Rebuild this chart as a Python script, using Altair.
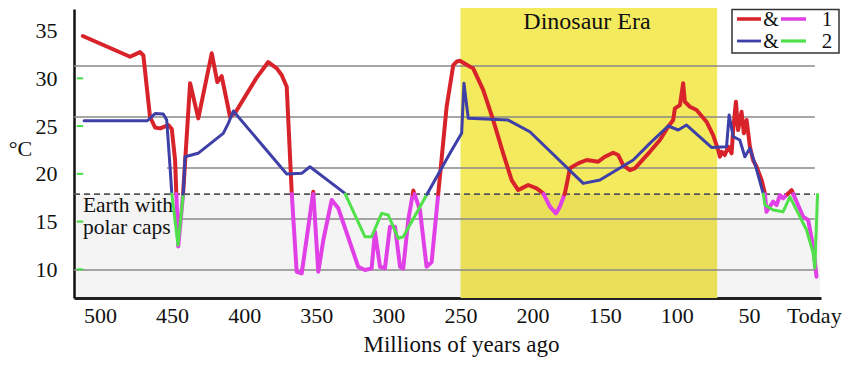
import altair as alt
import pandas as pd

# ---------------- data ----------------
# Series 1: red above the polar-cap threshold, magenta below
s1_age = [511.9, 479.1, 472.2, 469.9, 465.3, 461.8, 458.3, 452.6, 450.2, 447.9,
          445.7, 442.4, 437.5, 431.8, 422.5, 418.6, 415.6, 409.8, 406.3, 391.3,
          383.3, 377.4, 374.0, 370.5, 367.0, 363.6, 360.1, 355.5, 352.1, 348.6,
          345.1, 339.3, 334.7, 320.9, 316.2, 311.6, 309.3, 305.8, 302.4, 298.9,
          295.4, 291.9, 289.7, 286.2, 282.7, 278.1, 273.5, 270.0, 265.4, 259.6,
          255.0, 252.5, 250.4, 243.4, 241.2, 234.2, 227.3, 220.4, 214.5, 210.0,
          207.6, 203.0, 197.2, 192.6, 188.0, 183.8, 181.1, 177.6, 174.1, 168.4,
          162.5, 154.5, 149.9, 144.1, 140.6, 137.2, 132.5, 129.1, 118.7, 111.7,
          106.0, 102.5, 101.3, 97.8, 95.6, 94.4, 90.9, 86.3, 79.4, 74.8,
          71.3, 70.1, 69.0, 66.7, 64.4, 62.0, 60.9, 59.0, 57.5, 55.1,
          53.5, 51.6, 49.3, 47.1, 44.7, 41.2, 38.9, 37.8, 35.5, 33.2,
          30.8, 28.5, 26.3, 23.9, 20.4, 16.9, 12.4, 8.9, 5.4, 3.1]
s1_temp = [34.43, 32.26, 32.75, 32.39, 25.98, 24.85, 24.76, 25.11, 24.69, 21.45,
           12.40, 17.80, 29.48, 25.81, 32.62, 29.61, 30.24, 25.98, 26.37, 30.08,
           31.71, 31.05, 30.35, 29.12, 17.96, 9.75, 9.58, 14.46, 18.13, 9.75,
           13.07, 17.26, 16.39, 10.27, 9.93, 10.10, 13.94, 10.27, 10.10, 14.46,
           14.46, 10.27, 10.10, 15.16, 18.25, 16.21, 10.27, 10.76, 17.96, 27.03,
           31.39, 31.76, 31.84, 31.21, 31.05, 28.77, 25.63, 22.15, 19.35, 18.30,
           18.48, 18.83, 18.48, 17.96, 16.56, 15.86, 16.56, 17.96, 20.58, 21.10,
           21.45, 21.27, 21.79, 22.21, 21.97, 20.92, 20.40, 20.58, 22.31, 23.54,
           24.93, 25.63, 26.86, 27.20, 29.48, 27.55, 27.03, 26.68, 25.46, 24.06,
           22.49, 21.79, 22.31, 21.97, 22.84, 22.15, 24.59, 27.55, 24.59, 26.50,
           24.24, 25.63, 22.84, 21.45, 20.74, 19.35, 17.96, 16.03, 16.56, 17.08,
           16.73, 17.78, 17.43, 17.78, 18.30, 17.08, 15.51, 15.16, 12.37, 9.23]

# Series 2: blue above the threshold, green below
s2_age = [511.0, 467.1, 461.8, 456.1, 453.7, 451.4, 450.2, 445.9, 442.2, 441.0,
          432.0, 414.5, 411.0, 407.5, 370.5, 360.1, 354.4, 330.1, 316.2, 311.6,
          304.7, 300.1, 293.1, 289.7, 273.5, 257.3, 249.2, 247.6, 244.6, 216.9,
          201.9, 164.9, 153.3, 130.2, 118.7, 106.0, 99.0, 93.2, 75.9, 65.5,
          63.7, 60.9, 56.3, 52.8, 49.3, 45.9, 40.1, 38.9, 33.2, 26.3,
          21.6, 15.8, 10.0, 5.4, 4.3, 2.4]
s2_temp = [25.56, 25.56, 26.31, 26.26, 25.63, 20.74, 17.96, 12.55, 17.96, 21.79,
           22.15, 24.24, 25.29, 26.58, 19.98, 20.05, 20.74, 17.96, 13.41, 13.41,
           15.86, 15.69, 13.25, 13.41, 17.78, 22.15, 24.24, 29.48, 25.81, 25.63,
           24.41, 19.00, 19.35, 21.45, 23.19, 25.01, 24.59, 25.11, 22.77, 22.84,
           26.16, 23.89, 23.54, 21.79, 22.67, 21.10, 17.96, 16.73, 16.21, 16.03,
           17.60, 15.86, 14.12, 11.68, 10.13, 17.85]

threshold = 17.88                       # dashed "polar caps" line
grid_temps = [31.29, 25.95, 20.6, 15.27, 9.93]
grid_start = [518, 518, 453.5, 446.6, 518]
grid_end = 4.3
tick_temps = [30, 25, 20, 15, 10]
y_labels = [10, 15, 20, 25, 30, 35]
x_labels = [500, 450, 400, 350, 300, 250, 200, 150, 100, 50, 5]
dino_start, dino_end = 250, 72
X_DOMAIN = [518, 0]
Y_DOMAIN = [7.0, 37.26]

SERIF = "Liberation Serif"
COLORS = {"red": "#d8232a", "magenta": "#e040e6", "blue": "#3f3fa8", "green": "#4fe04a"}


def split(ages, temps, hi, lo, name):
    rows = []
    seg = 0
    cls = hi if temps[0] >= threshold else lo
    cur = [(ages[0], temps[0])]

    def flush(points, c, s):
        for k, (a, t) in enumerate(points):
            rows.append(dict(age=a, temp=t, seg=f"{name}-{s}", cls=c, ord=k))

    for i in range(1, len(ages)):
        a0, t0, a1, t1 = ages[i - 1], temps[i - 1], ages[i], temps[i]
        if (t0 - threshold) * (t1 - threshold) < 0:
            f = (threshold - t0) / (t1 - t0)
            ac = a0 + f * (a1 - a0)
            cur.append((ac, threshold))
            flush(cur, cls, seg)
            seg += 1
            cur = [(ac, threshold)]
            cls = hi if t1 > threshold else lo
        cur.append((a1, t1))
    flush(cur, cls, seg)
    return pd.DataFrame(rows)


df1 = split(s1_age, s1_temp, "red", "magenta", "s1")
df2 = split(s2_age, s2_temp, "blue", "green", "s2")

xs = alt.Scale(domain=X_DOMAIN, nice=False, zero=False)
ys = alt.Scale(domain=Y_DOMAIN, nice=False, zero=False)

x_axis = alt.Axis(values=x_labels,
                  labelExpr="datum.value < 10 ? 'Today' : datum.label",
                  title="Millions of years ago", grid=False, ticks=False, tickSize=0,
                  labelPadding=7, labelFontSize=22, labelFont=SERIF, labelColor="#111",
                  labelFlush=False, labelOverlap=False,
                  domainColor="#222", domainWidth=3,
                  titleFont=SERIF, titleFontSize=23, titleFontWeight="normal",
                  titleColor="#111", titleX=387, titleY=53,
                  titleAlign="center", titleBaseline="alphabetic")
y_axis = alt.Axis(values=y_labels, title="°C", grid=False, ticks=False, tickSize=0,
                  labelPadding=17, labelFontSize=22, labelFont=SERIF, labelColor="#111",
                  labelFlush=False, domainColor="#111", domainWidth=2.5,
                  titleFont=SERIF, titleFontSize=22, titleFontWeight="normal",
                  titleColor="#111", titleAngle=0, titleX=-54, titleY=139,
                  titleAlign="center", titleBaseline="middle")


def X(field="age"):
    return alt.X(f"{field}:Q", scale=xs, axis=x_axis)


def Y(field="temp"):
    return alt.Y(f"{field}:Q", scale=ys, axis=y_axis)


# Dinosaur era band
dino = alt.Chart(pd.DataFrame({"age": [dino_start], "age2": [dino_end],
                               "temp": [Y_DOMAIN[0]], "temp2": [38.0]})).mark_rect(
    color="#f4ea5e").encode(x=X(), x2="age2", y=Y(), y2="temp2")

# polar-cap zone tint
caps = alt.Chart(pd.DataFrame({"age": [518], "age2": [0.7],
                               "temp": [Y_DOMAIN[0]], "temp2": [threshold]})).mark_rect(
    color="#000", opacity=0.045).encode(x=X(), x2="age2", y=Y(), y2="temp2")

grid = alt.Chart(pd.DataFrame({"age": grid_start, "age2": [grid_end] * len(grid_temps),
                               "temp": grid_temps})).mark_rule(
    color="#8a8a8a", strokeWidth=1.5).encode(x=X(), x2="age2", y=Y())

dashed = alt.Chart(pd.DataFrame({"age": [518], "age2": [grid_end], "temp": [threshold]})).mark_rule(
    color="#555", strokeWidth=1.6, strokeDash=[6, 4]).encode(x=X(), x2="age2", y=Y())

ticks = alt.Chart(pd.DataFrame({"temp": tick_temps})).mark_rule(
    color="#44dd44", strokeWidth=2).encode(x=alt.value(2.7), x2=alt.value(9.3), y=Y())

color_enc = alt.Color("cls:N", scale=alt.Scale(domain=list(COLORS.keys()),
                                               range=list(COLORS.values())), legend=None)

line1 = alt.Chart(df1).mark_line(strokeWidth=4, strokeCap="round", strokeJoin="round").encode(
    x=X(), y=Y(), color=color_enc, detail="seg:N", order="ord:Q")
line2 = alt.Chart(df2).mark_line(strokeWidth=3, strokeCap="round", strokeJoin="round").encode(
    x=X(), y=Y(), color=color_enc, detail="seg:N", order="ord:Q")

dino_text = alt.Chart(pd.DataFrame({"age": [162.3], "temp": [35.9], "txt": ["Dinosaur Era"]})).mark_text(
    font=SERIF, fontSize=24, color="#111", align="center", baseline="middle").encode(
    x=X(), y=Y(), text="txt:N")

caps_text = alt.Chart(pd.DataFrame({"age": [511.8, 511.8], "temp": [16.04, 13.65],
                                    "txt": ["Earth with", "polar caps"]})).mark_text(
    font=SERIF, fontSize=21.5, color="#111", align="left", baseline="alphabetic").encode(
    x=X(), y=Y(), text="txt:N")

# hand-made legend
one = pd.DataFrame({"k": [0]})
leg_box = alt.Chart(one).mark_rect(fill="white", stroke="#333", strokeWidth=1.5).encode(
    x=alt.value(658), x2=alt.value(765), y=alt.value(0.5), y2=alt.value(44))
leg_lines = []
for (c, x1, x2, yy, w) in [("red", 663, 687, 10, 3.5), ("magenta", 707, 732, 10, 3.5),
                           ("blue", 663, 687, 32, 2.8), ("green", 707, 732, 32, 3.2)]:
    leg_lines.append(alt.Chart(one).mark_rule(color=COLORS[c], strokeWidth=w).encode(
        x=alt.value(x1), x2=alt.value(x2), y=alt.value(yy)))
leg_amp = alt.Chart(pd.DataFrame({"t": ["&", "&"], "yy": [11, 33]})).mark_text(
    font=SERIF, fontSize=20, color="#111", align="center", baseline="middle").encode(
    x=alt.value(697), y=alt.Y("yy:Q", scale=None), text="t:N")
leg_num = alt.Chart(pd.DataFrame({"t": ["1", "2"], "yy": [11, 33]})).mark_text(
    font=SERIF, fontSize=21, color="#111", align="center", baseline="middle").encode(
    x=alt.value(753), y=alt.Y("yy:Q", scale=None), text="t:N")

chart = alt.layer(dino, caps, grid, dashed, ticks, line1, line2, dino_text, caps_text,
                  leg_box, *leg_lines, leg_amp, leg_num).properties(
    width=747, height=289,
    padding={"left": 66, "top": 1, "right": 21, "bottom": 59},
    autosize=alt.AutoSizeParams(type="none"),
    background="white",
).configure_view(stroke=None)

chart.save("out.html", embed_options={"renderer": "svg", "actions": False})
